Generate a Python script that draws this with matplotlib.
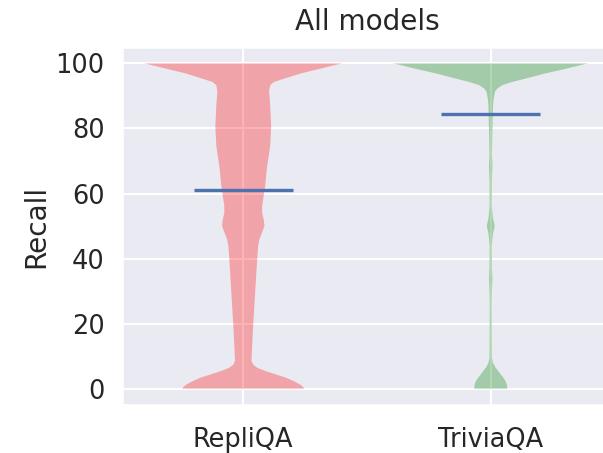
import numpy as np
import matplotlib
matplotlib.use("Agg")
import matplotlib.pyplot as plt
import seaborn as sns

sns.set_theme(context="talk", style="darkgrid", font_scale=1.12)

labels = ["RepliQA", "TriviaQA"]
means = [61.2, 84.4]

# density profiles (recall value, relative half-width)
repliqa_y = [0, 0.5, 1.3, 2.3, 3.4, 4.4, 5.4, 6.4, 7.4, 8.5, 12.5, 19.6, 29.8,
             39.9, 44.0, 46.0, 48.5, 50.1, 52.1, 54.0, 56.2, 62.3, 68.4, 74.5,
             80.6, 87.2, 91.3, 93.3, 94.3, 95.3, 96.9, 98.4, 99.9, 100]
repliqa_w = [61, 60.3, 57, 51, 42.7, 32.7, 22.7, 14.3, 10, 8.3, 8.8, 10, 12,
             14, 15, 16.3, 19.5, 21.3, 20.5, 19, 19, 22, 24, 27,
             28, 27, 26, 27, 31, 41, 57.7, 77.7, 97.7, 99.4]

triviaqa_y = [0, 1.3, 2.3, 3.4, 4.4, 5.4, 6.4, 7.9, 9.5, 25.7, 30.0, 33.8, 37.0,
              44.0, 47.5, 50.1, 52.5, 56.2, 64.0, 68.4, 72.0, 87.2, 89.2, 91.3,
              92.3, 93.3, 94.3, 95.3, 96.9, 98.4, 99.9, 100]
triviaqa_w = [16.7, 16.3, 15, 12.7, 10, 7.7, 5, 2.3, 1.2, 1.0, 1.2, 1.8, 1.2,
              1.1, 2.2, 4, 2.2, 1.1, 1.2, 1.8, 1.2, 2.3, 3, 4.3,
              6.7, 11.7, 21.7, 35, 55, 76.7, 96.7, 100]

colors = ["red", "green"]

stats = []
for ys, ws, m in [(repliqa_y, repliqa_w, means[0]), (triviaqa_y, triviaqa_w, means[1])]:
    stats.append(dict(coords=np.array(ys), vals=np.array(ws), mean=m,
                      median=np.nan, min=min(ys), max=max(ys)))

fig = plt.figure(figsize=(6.03, 4.53), dpi=100)
ax = fig.add_axes([0.2023, 0.106, 0.8126, 0.790])

parts = ax.violin(stats, positions=[1, 2], widths=0.8,
                  showmeans=True, showextrema=False)
for body, c in zip(parts["bodies"], colors):
    body.set_facecolor(c)
    body.set_edgecolor("none")
    body.set_alpha(0.3)
parts["cmeans"].set_color("#4C72B0")
parts["cmeans"].set_linewidth(2.4)

ax.set_xticks([1, 2])
ax.set_xticklabels(labels)
ax.set_yticks([0, 20, 40, 60, 80, 100])
ax.tick_params(axis="x", pad=plt.rcParams["xtick.major.pad"] + 3)
ax.set_ylabel("Recall")
ax.set_title("All models", pad=12)

fig.savefig("out.png", dpi=100)
